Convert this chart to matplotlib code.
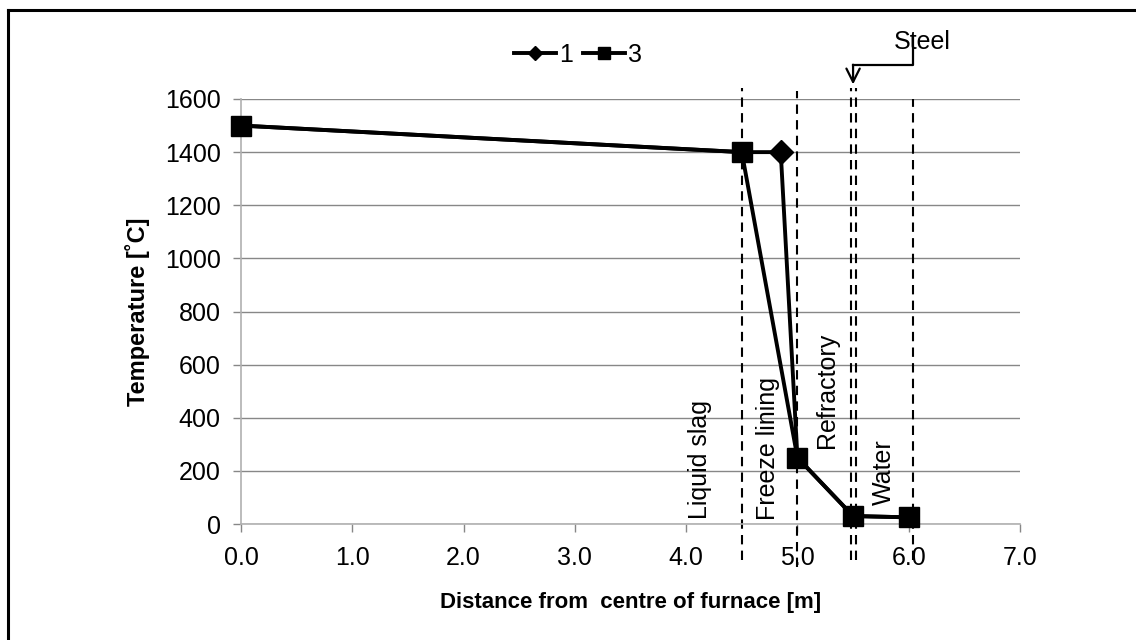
import matplotlib
matplotlib.use("Agg")
import matplotlib.pyplot as plt
from matplotlib.lines import Line2D

plt.rcParams['font.family'] = ['Liberation Sans', 'DejaVu Sans']

# Data
s1_x = [0.0, 4.5, 4.85, 5.0, 5.5, 6.0]
s1_y = [1500, 1400, 1400, 250, 30, 25]
s3_x = [0.0, 4.5, 5.0, 5.5, 6.0]
s3_y = [1500, 1400, 250, 30, 25]
boundaries = [4.5, 5.0, 5.485, 5.53, 6.04]
boundary_tops = [1642, 1631, 1642, 1642, 1600]
boundary_bottoms = [-136, -162, -136, -136, -136]
zone_labels = ["Liquid slag", "Freeze lining", "Refractory", "Water"]
zone_x = [4.125, 4.74, 5.27, 5.775]
zone_y = [19, 15, 286, 72]
xticks = [0, 1, 2, 3, 4, 5, 6, 7]
yticks = [0, 200, 400, 600, 800, 1000, 1200, 1400, 1600]

fig = plt.figure(figsize=(11.36, 6.4), dpi=100)
ax = fig.add_axes([241/1136, 1-524/640, (1020-241)/1136, (524-99)/640])

grid_c = '#878787'
ax.set_xlim(0, 7)
ax.set_ylim(0, 1600)
ax.set_xticks(xticks)
ax.set_xticklabels([f"{v:.1f}" for v in xticks])
ax.set_yticks(yticks)
ax.yaxis.grid(True, color=grid_c, linewidth=1.0)
ax.set_axisbelow(True)
for s in ['top', 'right']:
    ax.spines[s].set_visible(False)
for s in ['left', 'bottom']:
    ax.spines[s].set_color('#b0b0b0')
    ax.spines[s].set_linewidth(1.2)
ax.tick_params(axis='both', colors=grid_c, labelcolor='black', labelsize=18, length=5.5, width=1)
ax.tick_params(axis='y', pad=9)
ax.tick_params(axis='x', pad=10)

ax.set_xlabel("Distance from  centre of furnace [m]", fontsize=16, fontweight='bold', labelpad=16)
ax.set_ylabel("Temperature [˚C]", fontsize=17, fontweight='bold', labelpad=11)

# boundaries
for bx, bt, bb in zip(boundaries, boundary_tops, boundary_bottoms):
    ax.plot([bx, bx], [bb, bt], color='black', linestyle=(0, (4.5, 3)), linewidth=1.5, clip_on=False, zorder=2)

# zone labels
for lab, zx, zy in zip(zone_labels, zone_x, zone_y):
    ax.text(zx, zy, lab, rotation=90, ha='center', va='bottom', fontsize=18, zorder=3)

# series
ax.plot(s1_x, s1_y, color='black', linewidth=2.8, marker='D', markersize=12, markevery=[2],
        zorder=4, clip_on=False)
ax.plot(s3_x, s3_y, color='black', linewidth=2.8, marker='s', markersize=14.5, zorder=5, clip_on=False)

# steel annotation
ax.plot([6.04, 6.04, 5.5], [1834, 1729, 1729], color='black', linewidth=1.6, clip_on=False)
ax.annotate("", xy=(5.5, 1655), xytext=(5.5, 1729), annotation_clip=False,
            arrowprops=dict(arrowstyle='->', color='black', lw=1.6, shrinkA=0, shrinkB=0, mutation_scale=24))
ax.text(5.87, 1815, "Steel", fontsize=18, ha='left', va='center')

# legend
handles = [Line2D([], [], color='black', linewidth=2.8, marker='D', markersize=7),
           Line2D([], [], color='black', linewidth=2.8, marker='s', markersize=9)]
fig.legend(handles, ["1", "3"], loc='center', bbox_to_anchor=(578/1136, 1-55/640), ncol=2,
           frameon=False, fontsize=18, handlelength=1.7, handletextpad=0.12, columnspacing=0.4)

# figure frame (top & left)
fig.add_artist(Line2D([8/1136, 8/1136], [0, 1-10/640], color='black', linewidth=2.2, transform=fig.transFigure))
fig.add_artist(Line2D([8/1136, 1], [1-10/640, 1-10/640], color='black', linewidth=2.2, transform=fig.transFigure))

fig.savefig("out.png", dpi=100)
